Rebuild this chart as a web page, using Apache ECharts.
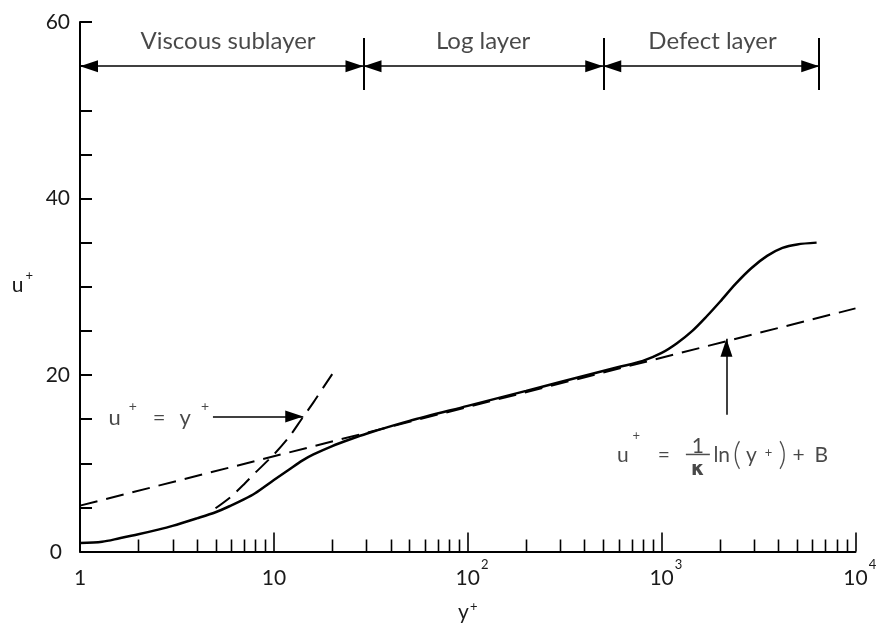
<!DOCTYPE html>
<html><head><meta charset="utf-8">
<script src="https://cdn.jsdelivr.net/npm/echarts@6/dist/echarts.min.js"></script>
<style>html,body{margin:0;padding:0;background:#fff}#c{width:877px;height:628px}</style>
</head><body><div id="c"></div>
<script>
// ---- data ----
const profileYPlus = [1, 1.3, 1.6, 2, 2.5, 3, 4, 5, 6, 7, 8, 10, 12, 14, 16, 20, 25, 30, 50, 100, 200, 300, 600, 800, 1000, 1200, 1440, 1700, 2000, 2400, 2900, 3500, 4200, 5000, 6300];
const profileUPlus = [0.95, 1.1, 1.5, 1.95, 2.45, 2.9, 3.75, 4.45, 5.2, 5.9, 6.6, 8.1, 9.3, 10.3, 11.0, 11.95, 12.75, 13.35, 14.8, 16.5, 18.2, 19.2, 20.9, 21.6, 22.5, 23.6, 25.0, 26.6, 28.3, 30.3, 32.1, 33.5, 34.4, 34.8, 35.0];
const logLawYPlus = [1, 10000];
const logLawUPlus = [5.2, 27.55];
const viscousYPlus = [5, 6, 7, 8, 10, 12, 14, 16, 18, 20];
const viscousUPlus = [4.9, 6.2, 7.6, 8.9, 11.0, 13.0, 15.1, 16.9, 18.6, 20.1];
const xMajorTicks = [1, 10, 100, 1000, 10000];
const xTickLabels = ['1', '10', '10^2', '10^3', '10^4'];
const xMinorTicks = [2,3,4,5,6,7,8,9,20,30,40,50,60,70,80,90,200,300,400,500,600,700,800,900,2000,3000,4000,5000,6000,7000,8000,9000];
const yTicks = [0, 20, 40, 60];
const yTickLabels = ['0', '20', '40', '60'];
const layerNames = ['Viscous sublayer', 'Log layer', 'Defect layer'];
const layerBounds = [1, 29, 500, 6500];
const layerLabelX = [5.8, 120, 1830];
const layerLabelU = 57.82;
const layerArrowU = 55;
const layerBarU = [52.3, 58.2];
const viscousArrowY = [4.85, 14.18];
const viscousArrowU = 15.3;
const viscousTextPos = [4.63, 15.59];
const logArrowY = 2160;
const logArrowU = [15.5, 24.1];
const formulaLeftPos = [588, 11.79];
const formulaFracPos = [1538, 10.09];
const formulaRightPos = [1849, 11.79];

// ---- styles ----
const FONT = 'Lato, "Open Sans", "DejaVu Sans", sans-serif';
const TXT = '#1a1a1a';
const arrowEnd = { symbol: 'triangle', symbolSize: [12, 18], symbolOffset: [0, 9] };

function mk(fs, H, va, extra) {
  return Object.assign({ fontSize: fs, height: fs, lineHeight: H, verticalAlign: va, fontFamily: FONT, color: TXT }, extra || {});
}

function xLabel(v) {
  const k = Math.round(Math.log10(v));
  const i = xMajorTicks.indexOf(Math.pow(10, k));
  const t = xTickLabels[i] || '';
  if (t.indexOf('^') >= 0) {
    const p = t.split('^');
    return '{sp|}{n|' + p[0] + '}{s|' + p[1] + '}';
  }
  return '{n|' + t + '}';
}

function yLabel(v) {
  const i = yTicks.indexOf(v);
  if (i < 0) return '';
  return i === 0 ? '{z|' + yTickLabels[i] + '}' : yTickLabels[i];
}

const markData = [];
for (let i = 0; i < 3; i++) {
  markData.push([
    Object.assign({ coord: [layerBounds[i], layerArrowU] }, arrowEnd),
    Object.assign({ coord: [layerBounds[i + 1], layerArrowU] }, arrowEnd)
  ]);
}
for (let i = 1; i < layerBounds.length; i++) {
  markData.push([
    { coord: [layerBounds[i], layerBarU[0]], symbol: 'none', lineStyle: { width: 2, color: '#000', type: 'solid' } },
    { coord: [layerBounds[i], layerBarU[1]], symbol: 'none' }
  ]);
}
markData.push([
  { coord: [viscousArrowY[0], viscousArrowU], symbol: 'none' },
  Object.assign({ coord: [viscousArrowY[1], viscousArrowU] }, arrowEnd)
]);
markData.push([
  { coord: [logArrowY, logArrowU[0]], symbol: 'none' },
  Object.assign({ coord: [logArrowY, logArrowU[1]] }, arrowEnd)
]);

const textData = [];
layerNames.forEach((n, i) => {
  textData.push({ value: [layerLabelX[i], layerLabelU],
    label: { formatter: n, align: 'center', verticalAlign: 'middle', fontSize: 24 } });
});
textData.push({ value: viscousTextPos, label: {
  formatter: '{m|u}{s|+}{e|=}{m|y}{s2|+}', align: 'right', verticalAlign: 'middle',
  rich: {
    m: mk(22, 29, 'bottom'),
    e: mk(22, 29, 'bottom', { padding: [0, 14, 0, 16] }),
    s: mk(14, 29, 'top', { padding: [0, 0, 0, 8] }),
    s2: mk(14, 29, 'top', { padding: [0, 0, 0, 10] })
  } } });
const richF = {
  m: mk(21, 36, 'bottom'),
  e: mk(21, 36, 'bottom', { padding: [0, 0, 0, 17.5] }),
  s: mk(13, 36, 'top', { padding: [0, 0, 0, 4] }),
  p: mk(31, 36, 'bottom', { height: 21, fontWeight: 300, padding: [0, 0, 0, 3] }),
  y: mk(21, 36, 'bottom', { padding: [0, 0, 0, 5] }),
  t: mk(13, 36, 'bottom', { height: 25, padding: [0, 0, 0, 8] }),
  q: mk(31, 36, 'bottom', { height: 21, fontWeight: 300, padding: [0, 0, 0, 6] }),
  a: mk(21, 36, 'bottom', { padding: [0, 0, 0, 6] }),
  b: mk(21, 36, 'bottom', { padding: [0, 0, 0, 10] })
};
textData.push({ value: formulaLeftPos, label: { formatter: '{m|u}{s|+}{e|=}', align: 'left', verticalAlign: 'middle', rich: richF } });
textData.push({ value: formulaRightPos, label: { formatter: '{m|ln}{p|(}{y|y}{t|+}{q|)}{a|+}{b|B}', align: 'left', verticalAlign: 'middle', rich: richF } });
textData.push({ value: formulaFracPos, label: {
  formatter: '{n|1}\n{b|\u00a0}\n{d|\u03ba}', align: 'center', verticalAlign: 'middle',
  rich: {
    n: { fontSize: 21, lineHeight: 14, fontFamily: FONT, color: TXT, align: 'center' },
    b: { width: 24, height: 1.5, lineHeight: 2, fontSize: 1, backgroundColor: '#222', align: 'center' },
    d: { fontSize: 19, lineHeight: 30, fontWeight: 'bold', fontFamily: '"DejaVu Sans", sans-serif', color: TXT, align: 'center' }
  } } });

const chart = echarts.init(document.getElementById('c'), null, { renderer: 'canvas' });
const option = {
  animation: false,
  backgroundColor: '#fff',
  grid: { left: 80, right: 21.5, top: 22, bottom: 76.5, containLabel: false, outerBoundsMode: 'none' },
  xAxis: {
    type: 'log', logBase: 10, min: xMajorTicks[0], max: xMajorTicks[xMajorTicks.length - 1],
    name: '{m|y}{s|+}', nameLocation: 'middle', nameGap: 49, nameMoveOverlap: false,
    nameTextStyle: { rich: { m: mk(21, 22.5, 'bottom'), s: mk(13, 22.5, 'top', { padding: [0, 0, 0, 1] }) } },
    axisLine: { show: true, onZero: false, lineStyle: { color: '#000', width: 2 } },
    axisTick: { show: true, inside: true, length: 19, lineStyle: { color: '#000', width: 1.6 } },
    axisLabel: { margin: 7, formatter: xLabel, rich: {
      sp: { width: 8.5, lineHeight: 30 },
      n: mk(21, 30, 'bottom'),
      s: mk(13, 30, 'top', { padding: [0, 0, 0, 1] }) } },
    splitLine: { show: false }, minorTick: { show: false }, minorSplitLine: { show: false }
  },
  yAxis: {
    type: 'value', min: yTicks[0], max: yTicks[yTicks.length - 1], interval: 20,
    name: '{m|u}{s|+}', nameLocation: 'middle', nameRotate: 0, nameGap: 47, nameMoveOverlap: false,
    nameTextStyle: { align: 'right', padding: [0, 0, 8, 0], rich: {
      m: mk(21, 26, 'bottom'), s: mk(13, 26, 'top', { padding: [0, 0, 0, 2] }) } },
    axisLine: { show: true, onZero: false, lineStyle: { color: '#000', width: 2 } },
    axisTick: { show: true, inside: true, length: 12, lineStyle: { color: '#000', width: 2 } },
    minorTick: { show: true, splitNumber: 4, length: 12, lineStyle: { color: '#000', width: 2 } },
    axisLabel: { margin: 10, fontSize: 21, color: TXT, fontFamily: FONT, formatter: yLabel,
      rich: { z: { fontSize: 21, color: TXT, fontFamily: FONT, padding: [2, 8, 0, 0] } } },
    splitLine: { show: false }
  },
  series: [
    {
      type: 'line', name: 'profile', data: profileYPlus.map((x, i) => [x, profileUPlus[i]]),
      smooth: 0.3, showSymbol: false, symbol: 'none', z: 4,
      lineStyle: { color: '#000', width: 2.5 },
      markLine: {
        silent: true, animation: false, precision: 6,
        label: { show: false }, emphasis: { disabled: true },
        lineStyle: { color: '#000', width: 1.5, type: 'solid' },
        data: markData
      }
    },
    {
      type: 'line', name: 'log law', data: logLawYPlus.map((x, i) => [x, logLawUPlus[i]]),
      showSymbol: false, symbol: 'none', z: 3,
      lineStyle: { color: '#000', width: 2, type: [18, 9] }
    },
    {
      type: 'line', name: 'viscous', data: viscousYPlus.map((x, i) => [x, viscousUPlus[i]]),
      smooth: 0.3, showSymbol: false, symbol: 'none', z: 3,
      lineStyle: { color: '#000', width: 2, type: [18, 9] }
    },
    {
      type: 'custom', name: 'minor ticks', silent: true, clip: false, z: 5,
      data: xMinorTicks.map(v => [v, 0]), encode: { x: 0, y: 1 },
      renderItem: function (params, api) {
        const p = api.coord([api.value(0), api.value(1)]);
        return { type: 'line', shape: { x1: Math.round(p[0]) + 0.5, y1: p[1], x2: Math.round(p[0]) + 0.5, y2: p[1] - 12 },
          style: { stroke: '#000', lineWidth: 1.6 } };
      }
    },
    {
      type: 'scatter', name: 'text', silent: true, symbolSize: 1, z: 6,
      itemStyle: { color: 'rgba(0,0,0,0)' },
      label: { show: true, position: 'inside', fontFamily: FONT, color: TXT, fontSize: 20 },
      data: textData
    }
  ]
};
chart.setOption(option);
</script>
</body></html>
